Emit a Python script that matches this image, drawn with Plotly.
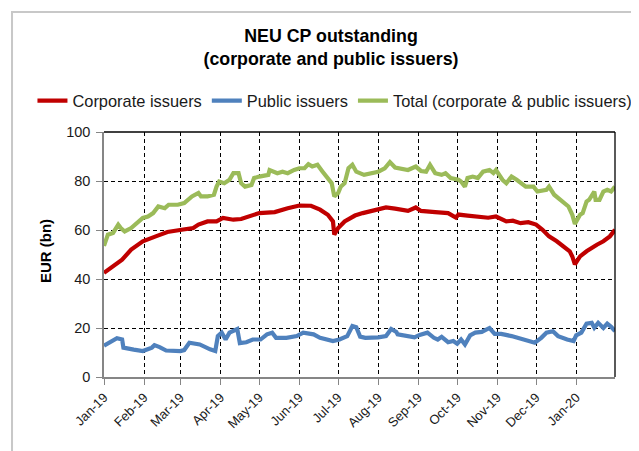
import plotly.graph_objects as go

# ---------------- data ----------------
red_dates = ["2019-01-01","2019-01-08","2019-01-15","2019-01-22","2019-01-31","2019-02-10","2019-02-19",
             "2019-03-02","2019-03-11","2019-03-15","2019-03-22","2019-03-29","2019-04-03","2019-04-11",
             "2019-04-17","2019-05-01","2019-05-13","2019-05-23","2019-06-01","2019-06-10","2019-06-17",
             "2019-06-23","2019-06-27","2019-06-28","2019-07-01","2019-07-06","2019-07-14","2019-07-20",
             "2019-08-01","2019-08-07","2019-08-14","2019-08-18","2019-08-24","2019-08-30","2019-09-03",
             "2019-09-14","2019-09-24","2019-09-30","2019-10-02","2019-10-09","2019-10-17","2019-10-25",
             "2019-10-31","2019-11-08","2019-11-13","2019-11-19","2019-11-25","2019-12-01","2019-12-06",
             "2019-12-11","2019-12-17","2019-12-22","2019-12-27","2019-12-29","2019-12-31","2020-01-04",
             "2020-01-09","2020-01-17","2020-01-22","2020-01-27","2020-01-31"]
red_values = [42.5, 45.2, 47.9, 52.0, 55.4, 57.4, 59.2, 60.1, 60.8, 62.2, 63.5, 63.5, 64.9, 64.2,
              64.5, 66.9, 67.3, 68.9, 70.0, 69.9, 68.3, 66.2, 63.5, 58.1, 60.8, 63.5, 65.9, 66.9,
              68.3, 69.2, 68.7, 68.3, 67.8, 69.2, 67.8, 67.3, 66.9, 65.1, 66.3, 65.9, 65.5, 65.0,
              65.5, 63.5, 63.8, 62.8, 63.2, 62.2, 60.1, 57.4, 55.4, 53.3, 51.3, 49.2, 46.0, 49.2,
              51.3, 54.0, 55.4, 57.4, 60.1]

blue_dates = ["2019-01-01","2019-01-06","2019-01-11","2019-01-15","2019-01-16","2019-01-24","2019-01-31",
              "2019-02-07","2019-02-09","2019-02-13","2019-02-18","2019-03-01","2019-03-04","2019-03-08",
              "2019-03-16","2019-03-24","2019-03-28","2019-03-30","2019-04-02","2019-04-05","2019-04-08",
              "2019-04-14","2019-04-16","2019-04-21","2019-04-26","2019-05-02","2019-05-07","2019-05-11",
              "2019-05-14","2019-05-22","2019-05-30","2019-06-04","2019-06-12","2019-06-17","2019-06-27",
              "2019-07-02","2019-07-08","2019-07-12","2019-07-15","2019-07-18","2019-07-22","2019-08-01",
              "2019-08-07","2019-08-11","2019-08-15","2019-08-16","2019-08-22","2019-08-29","2019-09-02",
              "2019-09-08","2019-09-13","2019-09-16","2019-09-19","2019-09-24","2019-09-28","2019-10-01",
              "2019-10-04","2019-10-07","2019-10-11","2019-10-15","2019-10-20","2019-10-26","2019-10-30",
              "2019-11-04","2019-11-12","2019-11-20","2019-11-28","2019-11-30","2019-12-05","2019-12-09",
              "2019-12-14","2019-12-18","2019-12-25","2019-12-30","2020-01-01","2020-01-05","2020-01-09",
              "2020-01-13","2020-01-15","2020-01-18","2020-01-22","2020-01-25","2020-01-28","2020-01-31"]
blue_values = [12.8, 14.5, 15.8, 15.3, 12.0, 11.2, 10.6, 12.0, 13.0, 12.2, 10.8, 10.6, 11.0, 14.0,
               13.3, 11.3, 10.6, 16.7, 18.1, 15.3, 18.1, 19.6, 13.8, 14.2, 15.3, 15.3, 17.4, 18.1,
               16.0, 16.0, 16.7, 18.1, 17.4, 16.0, 14.7, 15.3, 16.7, 20.8, 20.3, 16.5, 16.0, 16.2,
               16.7, 19.6, 18.4, 17.4, 17.0, 16.2, 17.2, 18.1, 16.0, 15.3, 16.4, 14.2, 14.7, 13.6,
               15.3, 13.3, 17.0, 18.1, 18.4, 20.0, 17.6, 17.6, 16.7, 15.6, 14.7, 14.0, 16.0, 18.1,
               18.7, 16.7, 15.3, 14.7, 17.0, 18.1, 21.8, 22.1, 20.1, 22.1, 20.0, 21.8, 20.5, 18.7]

green_dates = ["2019-01-01","2019-01-04","2019-01-08","2019-01-12","2019-01-14","2019-01-17","2019-01-22",
               "2019-01-27","2019-01-31","2019-02-04","2019-02-08","2019-02-12","2019-02-17","2019-02-20",
               "2019-02-27","2019-03-04","2019-03-10","2019-03-15","2019-03-17","2019-03-22","2019-03-27",
               "2019-03-29","2019-03-31","2019-04-04","2019-04-08","2019-04-11","2019-04-15","2019-04-17",
               "2019-04-20","2019-04-25","2019-04-27","2019-05-01","2019-05-08","2019-05-09","2019-05-15",
               "2019-05-19","2019-05-23","2019-05-28","2019-06-01","2019-06-05","2019-06-08","2019-06-11",
               "2019-06-15","2019-06-19","2019-06-23","2019-06-26","2019-06-28","2019-07-01","2019-07-03",
               "2019-07-06","2019-07-09","2019-07-12","2019-07-15","2019-07-21","2019-08-01","2019-08-06",
               "2019-08-10","2019-08-14","2019-08-24","2019-08-30","2019-09-03","2019-09-07","2019-09-10",
               "2019-09-14","2019-09-19","2019-09-22","2019-09-26","2019-10-02","2019-10-04","2019-10-07",
               "2019-10-09","2019-10-13","2019-10-17","2019-10-21","2019-10-26","2019-10-29","2019-10-31",
               "2019-11-05","2019-11-08","2019-11-12","2019-11-16","2019-11-19","2019-11-23","2019-11-29",
               "2019-12-02","2019-12-09","2019-12-11","2019-12-15","2019-12-20","2019-12-26","2019-12-29",
               "2019-12-31","2020-01-04","2020-01-06","2020-01-09","2020-01-11","2020-01-15","2020-01-16",
               "2020-01-19","2020-01-22","2020-01-25","2020-01-28","2020-01-31"]
green_values = [53.5, 58.1, 58.8, 62.2, 60.8, 59.4, 60.8, 62.8, 64.9, 65.5, 66.9, 69.6, 68.9, 70.3,
                70.3, 71.0, 73.7, 75.1, 73.7, 73.7, 74.4, 77.7, 79.8, 79.1, 80.5, 83.2, 83.2, 79.1,
                77.7, 78.4, 81.2, 81.8, 82.5, 84.5, 83.2, 83.8, 83.2, 84.5, 85.2, 85.2, 86.9, 85.9,
                86.6, 83.8, 81.2, 79.1, 73.7, 75.1, 77.7, 79.1, 85.2, 86.6, 83.8, 82.5, 83.8, 85.2,
                87.7, 85.5, 84.5, 85.9, 84.1, 83.8, 86.6, 83.2, 82.5, 83.2, 81.2, 80.5, 79.8, 77.7,
                81.2, 81.8, 81.2, 83.8, 84.5, 83.2, 84.5, 80.5, 79.1, 81.8, 80.5, 79.1, 77.7, 77.7,
                75.7, 76.4, 77.7, 74.4, 72.3, 69.6, 66.2, 62.5, 66.2, 66.9, 71.6, 72.3, 75.7, 72.3,
                72.3, 75.7, 76.4, 75.7, 77.7]

month_ticks = ["2019-01-01","2019-02-01","2019-03-01","2019-04-01","2019-05-01","2019-06-01","2019-07-01",
               "2019-08-01","2019-09-01","2019-10-01","2019-11-01","2019-12-01","2020-01-01"]
month_labels = ["Jan-19","Feb-19","Mar-19","Apr-19","May-19","Jun-19","Jul-19",
                "Aug-19","Sep-19","Oct-19","Nov-19","Dec-19","Jan-20"]
y_ticks = [0, 20, 40, 60, 80, 100]

series_names = ["Corporate issuers", "Public issuers", "Total (corporate & public issuers)"]
series_colors = ["#C00000", "#4F81BD", "#9BBB59"]

# ---------------- figure ----------------
fig = go.Figure()
for name, xs, ys, col in zip(series_names,
                             [red_dates, blue_dates, green_dates],
                             [red_values, blue_values, green_values],
                             series_colors):
    fig.add_trace(go.Scatter(x=xs, y=ys, name=name, mode="lines",
                             line=dict(color=col, width=4.2)))

FONT = "Liberation Sans, Arial, sans-serif"
axis_grey = "#868686"
W, H = 631, 443   # page body has an 8px margin, so the figure fits the 639x451 window

fig.update_layout(
    width=W, height=H,
    margin=dict(l=96, r=24, t=124, b=74, autoexpand=False),
    paper_bgcolor="white", plot_bgcolor="white",
    font=dict(family=FONT, color="#1a1a1a", size=14),
    title=dict(text="NEU CP outstanding<br>(corporate and public issuers)",
               x=323/W, xref="container", xanchor="center",
               y=1 - 34/H, yref="container", yanchor="top",
               font=dict(family=FONT, size=17.8, weight="bold", color="#000")),
    showlegend=True,
    legend=dict(orientation="h", x=-0.14, xanchor="left", y=1.127, yanchor="middle",
                font=dict(size=16.4, color="#1a1a1a"), bgcolor="rgba(0,0,0,0)",
                itemwidth=30, tracegroupgap=0),
    xaxis=dict(type="date", range=["2019-01-01", "2020-01-31"],
               tickvals=month_ticks, ticktext=month_labels, tickangle=-45,
               ticks="outside", ticklen=6, tickcolor=axis_grey, tickwidth=1,
               showline=True, linecolor=axis_grey, linewidth=1.5,
               showgrid=True, gridcolor="black", gridwidth=1, griddash="4px,3px",
               tickfont=dict(size=13, color="#1a1a1a"), zeroline=False),
    yaxis=dict(range=[0, 100], tickvals=y_ticks,
               ticks="outside", ticklen=6, tickcolor=axis_grey, tickwidth=1,
               ticklabelstandoff=3,
               showline=True, linecolor=axis_grey, linewidth=1.5,
               showgrid=True, gridcolor="black", gridwidth=1, griddash="4px,3px",
               tickfont=dict(size=14.5, color="#1a1a1a"), zeroline=False),
    annotations=[dict(text="EUR (bn)", textangle=-90, xref="paper", yref="paper",
                      x=-0.1155, y=0.514, xanchor="center", yanchor="middle", showarrow=False,
                      font=dict(size=15, weight="bold", color="#000"))],
    shapes=[
        dict(type="line", xref="paper", yref="paper", x0=0, x1=1, y0=1, y1=1,
             line=dict(color="black", width=1.3), layer="above"),
        dict(type="line", xref="paper", yref="paper", x0=1, x1=1, y0=0, y1=1,
             line=dict(color="black", width=1.3), layer="above"),
        dict(type="rect", xref="paper", yref="paper", x0=-0.18, x1=1.2, y0=-0.6, y1=1.49,
             line=dict(color="#C8C8C8", width=2), layer="below"),
    ],
)

fig.write_html("out.html")
